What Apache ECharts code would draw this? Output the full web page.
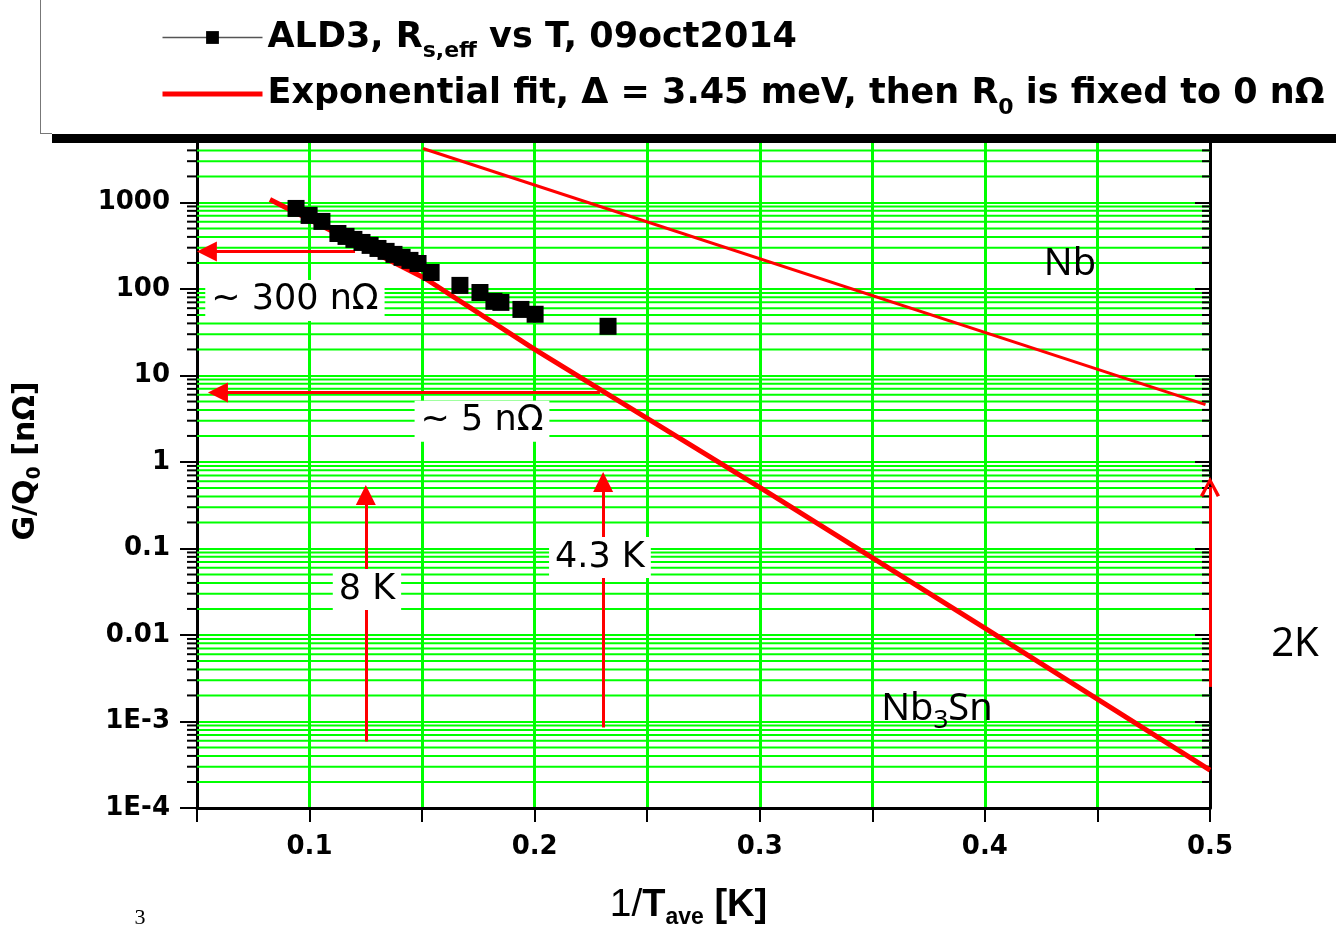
<!DOCTYPE html>
<html>
<head>
<meta charset="utf-8">
<script src="https://cdn.jsdelivr.net/npm/echarts@6/dist/echarts.min.js"></script>
<style>
  html, body { margin: 0; padding: 0; background: #fff; }
  #chart { width: 1336px; height: 926px; }
</style>
</head>
<body>
<div id="chart"></div>
<script>
// measured points: x = 1/T [1/K], y = G/Q0 [nOhm]
const aldX = [0.0940, 0.0998, 0.1055, 0.1126, 0.1162, 0.1197, 0.1233, 0.1269, 0.1304, 0.1340, 0.1375, 0.1411, 0.1446, 0.1482, 0.1540, 0.1668, 0.1757, 0.1819, 0.1850, 0.1939, 0.2002, 0.2326];
const aldY = [853, 708, 604, 438, 405, 374, 345, 319, 294, 272, 251, 232, 214, 197, 155, 110, 91, 72, 70, 58, 51, 37];

// exponential fit (Nb3Sn) and Nb reference line
const fitX = [0.0824, 0.151, 0.2, 0.3, 0.4, 0.5];
const fitY = [1083, 134, 20, 0.51, 0.012, 2.74e-4];
const nbX = [0.1504, 0.498];
const nbY = [4200, 4.6];

// axes
const X_MIN = 0.05, X_MAX = 0.5;
const Y_MIN = 1e-4, Y_MAX = 5000;
const xTickValues = [0.1, 0.2, 0.3, 0.4, 0.5];
const xTickLabels = ['0.1', '0.2', '0.3', '0.4', '0.5'];
const yTickExp = [-4, -3, -2, -1, 0, 1, 2, 3];
const yTickLabels = ['1E-4', '1E-3', '0.01', '0.1', '1', '10', '100', '1000'];
const minorSteps = [2, 3, 4, 5, 6, 7, 8, 9];

// annotation arrows [x, y] from -> to (tip)
const arrowFrom = [[0.1202, 272], [0.229, 6.37], [0.125, 5.87e-4], [0.2304, 8.53e-4], [0.5, 2.51e-3]];
const arrowTo = [[0.0544, 272], [0.0593, 6.37], [0.125, 0.416], [0.2304, 0.587], [0.5, 0.514]];
const arrowHead = ['triangle', 'triangle', 'triangle', 'triangle', 'path://M0,10 L5,0 L10,10 L8.4,10.8 L5,3.4 L1.6,10.8 Z'];

// boxed labels
const boxText = ['~ 300 nΩ', '~ 5 nΩ', '8 K', '4.3 K'];
const boxPos = [[0.0935, 73.8], [0.1766, 2.95], [0.1255, 0.0336], [0.229, 0.0787]];
const matText = ['{a|Nb}', '{a|Nb}{s|3}{a|Sn}'];
const matPos = [[0.4378, 192], [0.3787, 1.38e-3]];

const minorValues = [];
yTickExp.forEach(e => {
  minorSteps.forEach(m => {
    const v = m * Math.pow(10, e);
    if (v < Y_MAX) minorValues.push(v);
  });
});

const legendNames = ['ALD3, Rs,eff vs T, 09oct2014', 'Exponential fit, Δ = 3.45 meV, then R0 is fixed to 0 nΩ'];
const legendRich = {};
legendRich[legendNames[0]] = '{b|ALD3, R}{sub|s,eff}{b| vs T, 09oct2014}';
legendRich[legendNames[1]] = '{b|Exponential fit, Δ = 3.45 meV, then R}{sub|0}{b| is fixed to 0 nΩ}';

const chart = echarts.init(document.getElementById('chart'));

const option = {
  animation: false,
  backgroundColor: '#fff',
  grid: { left: 197, right: 126, top: 142, bottom: 118, containLabel: false, outerBoundsMode: 'none' },
  legend: {
    orient: 'vertical',
    left: 155,
    top: 15,
    itemWidth: 100,
    itemHeight: 16,
    itemGap: 14,
    selectedMode: false,
    data: [
      { name: legendNames[0], lineStyle: { width: 1.5, color: '#555', opacity: 1 } },
      { name: legendNames[1], lineStyle: { width: 5, color: '#ff0000', opacity: 1 }, itemStyle: { opacity: 0 } }
    ],
    formatter: n => legendRich[n],
    textStyle: {
      color: '#000',
      rich: {
        b: { fontFamily: 'DejaVu Sans', fontWeight: 'bold', fontSize: 35, color: '#000', verticalAlign: 'middle' },
        sub: { fontFamily: 'DejaVu Sans', fontWeight: 'bold', fontSize: 22, color: '#000', padding: [28, 0, 0, 0], verticalAlign: 'middle' }
      }
    }
  },
  xAxis: {
    type: 'value',
    min: X_MIN,
    max: X_MAX,
    interval: 0.05,
    name: '{r|1/}{b|T}{sub|ave}{b| [K]}',
    nameLocation: 'middle',
    nameGap: 74,
    nameTextStyle: {
      padding: [0, 30, 0, 0],
      rich: {
        r: { fontFamily: 'Liberation Sans', fontSize: 39, color: '#000', verticalAlign: 'middle' },
        b: { fontFamily: 'Liberation Sans', fontWeight: 'bold', fontSize: 38, color: '#000', verticalAlign: 'middle' },
        sub: { fontFamily: 'Liberation Sans', fontWeight: 'bold', fontSize: 23, color: '#000', padding: [24, 0, 0, 0], verticalAlign: 'middle' }
      }
    },
    axisLine: { show: true, onZero: false, lineStyle: { color: '#000', width: 3 } },
    axisTick: { show: true, inside: false, length: 14, lineStyle: { color: '#000', width: 2 } },
    axisLabel: {
      margin: 26,
      fontFamily: 'DejaVu Sans',
      fontWeight: 'bold',
      fontSize: 26,
      color: '#000',
      formatter: v => {
        const i = xTickValues.findIndex(t => Math.abs(t - v) < 1e-6);
        return i >= 0 ? xTickLabels[i] : '';
      }
    },
    splitLine: { show: true, lineStyle: { color: '#00ff00', width: 3 } }
  },
  yAxis: [
    {
      type: 'log',
      logBase: 10,
      min: Y_MIN,
      max: Y_MAX,
      splitNumber: 8,
      name: '{b|G/Q}{sub|0}{b| [nΩ]}',
      nameLocation: 'middle',
      nameRotate: 90,
      nameGap: 152,
      nameTextStyle: {
        padding: [0, 0, 0, 28],
        rich: {
          b: { fontFamily: 'DejaVu Sans', fontWeight: 'bold', fontSize: 30, color: '#000', verticalAlign: 'middle' },
          sub: { fontFamily: 'DejaVu Sans', fontWeight: 'bold', fontSize: 19, color: '#000', padding: [18, 0, 0, 0], verticalAlign: 'middle' }
        }
      },
      axisLine: { show: true, onZero: false, lineStyle: { color: '#000', width: 3 } },
      axisTick: { show: true, inside: false, length: 17, lineStyle: { color: '#000', width: 2 } },
      axisLabel: {
        margin: 27,
        fontFamily: 'DejaVu Sans',
        fontWeight: 'bold',
        fontSize: 26,
        color: '#000',
        formatter: v => {
          const l = Math.log10(v);
          const e = Math.round(l);
          const i = yTickExp.indexOf(e);
          return (i >= 0 && Math.abs(l - e) < 1e-6) ? yTickLabels[i] : '';
        }
      },
      splitLine: { show: true, lineStyle: { color: '#00ff00', width: 2 } }
    },
    {
      type: 'log',
      logBase: 10,
      min: Y_MIN,
      max: Y_MAX,
      splitNumber: 8,
      position: 'right',
      axisLine: { show: true, onZero: false, lineStyle: { color: '#000', width: 3 } },
      axisTick: { show: true, inside: true, length: 15, lineStyle: { color: '#000', width: 2 } },
      axisLabel: { show: false },
      splitLine: { show: false }
    }
  ],
  series: [
    {
      // minor log grid lines with their ticks on both sides
      type: 'custom',
      name: 'minor',
      silent: true,
      z: 1,
      data: minorValues.map(v => [X_MIN, v]),
      encode: { x: 0, y: 1 },
      renderItem: (params, api) => {
        const v = api.value(1);
        const a = api.coord([X_MIN, v]);
        const b = api.coord([X_MAX, v]);
        return {
          type: 'group',
          children: [
            { type: 'line', shape: { x1: a[0], y1: a[1], x2: b[0], y2: b[1] }, style: { stroke: '#00ff00', lineWidth: 2 } },
            { type: 'line', shape: { x1: a[0] - 10, y1: a[1], x2: a[0], y2: a[1] }, style: { stroke: '#000', lineWidth: 2 } },
            { type: 'line', shape: { x1: b[0] - 8, y1: b[1], x2: b[0], y2: b[1] }, style: { stroke: '#000', lineWidth: 2 } }
          ]
        };
      }
    },
    {
      type: 'line',
      name: 'Nb',
      silent: true,
      z: 3,
      symbol: 'none',
      lineStyle: { color: '#ff0000', width: 3 },
      data: nbX.map((x, i) => [x, nbY[i]])
    },
    {
      type: 'line',
      name: legendNames[1],
      silent: true,
      z: 4,
      symbol: 'none',
      lineStyle: { color: '#ff0000', width: 5 },
      itemStyle: { color: '#ff0000' },
      data: fitX.map((x, i) => [x, fitY[i]])
    },
    {
      type: 'line',
      name: legendNames[0],
      silent: true,
      z: 5,
      symbol: 'rect',
      symbolSize: 17,
      showSymbol: true,
      itemStyle: { color: '#000', opacity: 1 },
      lineStyle: { width: 0, opacity: 0, color: '#555' },
      data: aldX.map((x, i) => [x, aldY[i]])
    },
    {
      type: 'line',
      name: 'arrows',
      silent: true,
      clip: false,
      z: 6,
      data: [],
      markLine: {
        silent: true,
        animation: false,
        symbolSize: 20,
        label: { show: false },
        lineStyle: { color: '#ff0000', width: 3, type: 'solid', opacity: 1 },
        emphasis: { disabled: true },
        data: arrowFrom.map((f, i) => [
          { coord: f, symbol: 'none' },
          { coord: arrowTo[i], symbol: arrowHead[i] }
        ])
      }
    },
    {
      type: 'scatter',
      name: 'boxLabels',
      silent: true,
      z: 7,
      symbolSize: 0,
      itemStyle: { opacity: 1 },
      data: boxPos.map((p, i) => [p[0], p[1], boxText[i]]),
      label: {
        show: true,
        position: 'inside',
        formatter: p => p.value[2],
        fontFamily: 'DejaVu Sans',
        fontSize: 35,
        color: '#000',
        opacity: 1,
        backgroundColor: '#ffffff',
        padding: [3, 6]
      }
    },
    {
      type: 'scatter',
      name: 'matLabels',
      silent: true,
      z: 7,
      symbolSize: 0,
      itemStyle: { opacity: 1 },
      data: matPos.map((p, i) => [p[0], p[1], matText[i]]),
      label: {
        show: true,
        position: 'inside',
        opacity: 1,
        formatter: p => p.value[2],
        rich: {
          a: { fontFamily: 'Noto Sans', fontSize: 38, color: '#000', verticalAlign: 'middle' },
          s: { fontFamily: 'Noto Sans', fontSize: 26, color: '#000', padding: [22, 0, 0, 0], verticalAlign: 'middle' }
        }
      }
    }
  ],
  graphic: [
    { type: 'rect', z: 100, silent: true, shape: { x: 52, y: 134, width: 1284, height: 9 }, style: { fill: '#000' } },
    { type: 'line', z: 100, silent: true, shape: { x1: 40.5, y1: 0, x2: 40.5, y2: 133.5 }, style: { stroke: '#777', lineWidth: 1 } },
    { type: 'line', z: 100, silent: true, shape: { x1: 40, y1: 133.5, x2: 52, y2: 133.5 }, style: { stroke: '#777', lineWidth: 1 } },
    { type: 'text', z: 100, silent: true, style: { x: 1295, y: 645, text: '2K', fontFamily: 'Noto Sans', fontSize: 40, fill: '#000', align: 'center', verticalAlign: 'middle' } },
    { type: 'text', z: 100, silent: true, style: { x: 140, y: 918, text: '3', fontFamily: 'Liberation Serif', fontSize: 22, fill: '#000', align: 'center', verticalAlign: 'middle' } }
  ]
};

chart.setOption(option);
</script>
</body>
</html>
